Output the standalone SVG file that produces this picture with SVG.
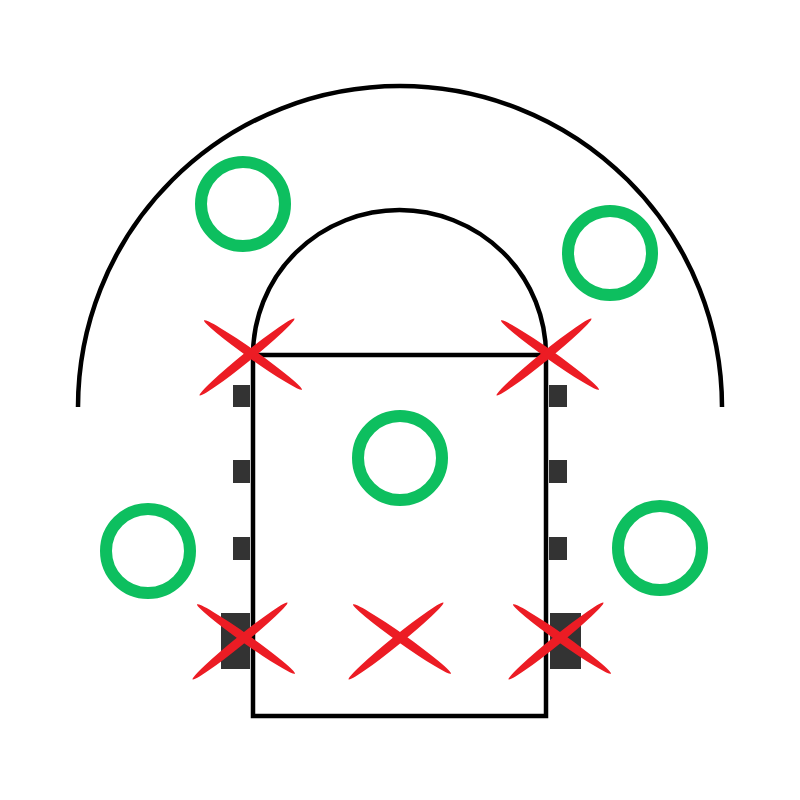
<svg xmlns="http://www.w3.org/2000/svg" width="800" height="800" viewBox="0 0 800 800" xmlns:xlink="http://www.w3.org/1999/xlink">
<style>
.line{fill:none;stroke:#000;stroke-width:4.5}
.ring{fill:none;stroke:#0dbf5f;stroke-width:12}
.blk{fill:#333}
.xs{fill:#ec1c24}
</style>
<defs>
<g id="xmark">
<ellipse class="xs" cx="3" cy="0" rx="60" ry="4.5" transform="rotate(35.3 3 0)"/>
<ellipse class="xs" cx="-3" cy="2" rx="61" ry="4.5" transform="rotate(-39 -3 2)"/>
</g>
</defs>
<rect width="800" height="800" fill="#fff"/>
<g id="court">
<path class="line" d="M78,407 A322,321 0 0 1 722,407"/>
<path class="line" d="M253,355 A146.5,145 0 0 1 546,355"/>
<rect class="line" x="253" y="355" width="293" height="361"/>
</g>
<g id="blocks">
<rect class="blk" x="233" y="385" width="17" height="22"/>
<rect class="blk" x="233" y="460" width="17" height="23"/>
<rect class="blk" x="233" y="537" width="17" height="23"/>
<rect class="blk" x="549" y="385" width="18" height="22"/>
<rect class="blk" x="549" y="460" width="18" height="23"/>
<rect class="blk" x="549" y="537" width="18" height="23"/>
<rect class="blk" x="221" y="613" width="29" height="56"/>
<rect class="blk" x="550" y="613" width="31" height="56"/>
</g>
<g id="o1"><circle class="ring" cx="243" cy="204" r="42"/></g>
<g id="o2"><circle class="ring" cx="610" cy="253" r="42"/></g>
<g id="o3"><circle class="ring" cx="400" cy="458" r="42"/></g>
<g id="o4"><circle class="ring" cx="148" cy="551" r="42"/></g>
<g id="o5"><circle class="ring" cx="660" cy="548" r="42"/></g>
<g id="x1"><use xlink:href="#xmark" transform="translate(250,355)"/></g>
<g id="x2"><use xlink:href="#xmark" transform="translate(547,355)"/></g>
<g id="x3"><use xlink:href="#xmark" transform="translate(243,639)"/></g>
<g id="x4"><use xlink:href="#xmark" transform="translate(399,639)"/></g>
<g id="x5"><use xlink:href="#xmark" transform="translate(559,639)"/></g>
</svg>
